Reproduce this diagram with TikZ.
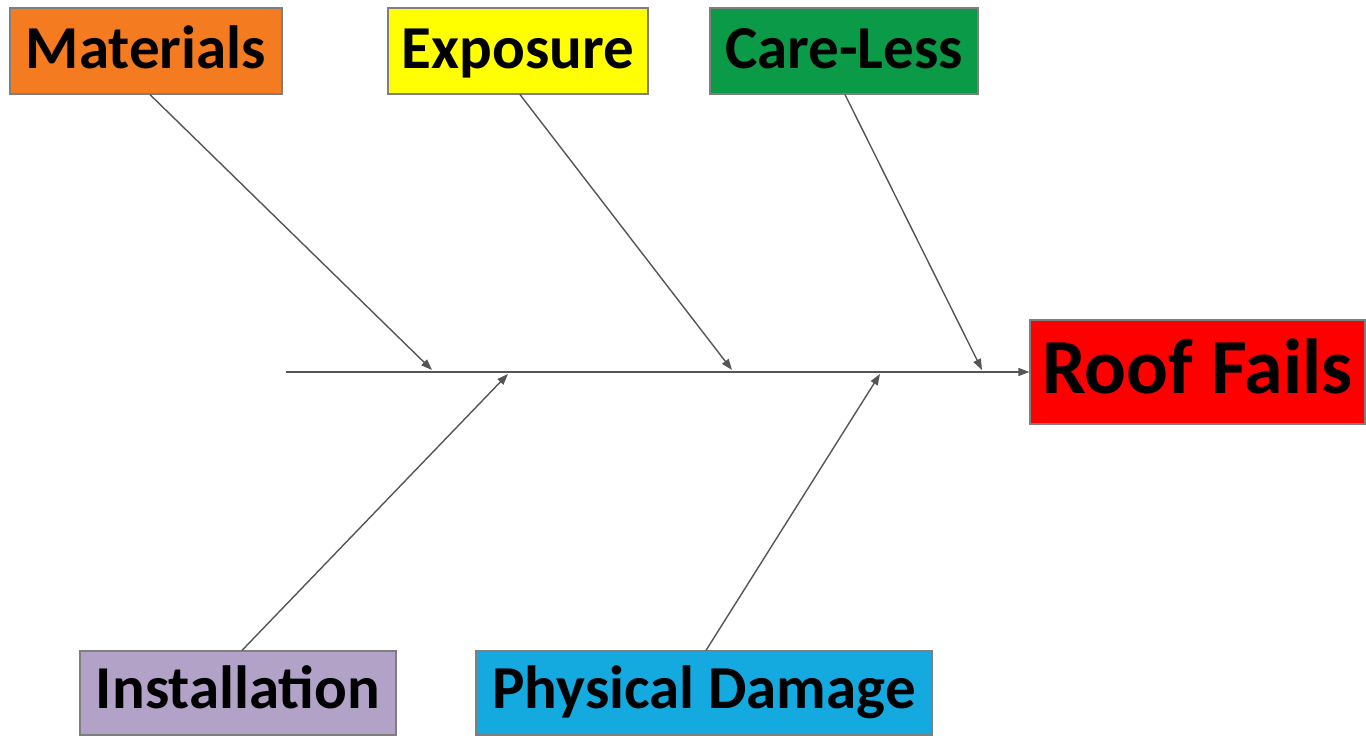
\documentclass[tikz,border=0pt]{standalone}
\usepackage{fontspec}
\setmainfont{Carlito}
\usetikzlibrary{arrows.meta}
\definecolor{cOrange}{HTML}{F47B20}
\definecolor{cYellow}{HTML}{FFFF00}
\definecolor{cGreen}{HTML}{0B9A48}
\definecolor{cRed}{HTML}{FF0000}
\definecolor{cLav}{HTML}{B3A2C7}
\definecolor{cBlue}{HTML}{14AAE0}
\definecolor{cLine}{HTML}{555555}
\definecolor{cBorder}{HTML}{7F7F7F}
\tikzset{
  cause/.style={draw=cBorder, line width=1.2pt, inner sep=0pt, font=\bfseries\fontsize{61}{63}\selectfont, text=black, text height=44pt, text depth=10pt},
  bone/.style={draw=cLine, line width=1.4pt, -{Triangle[length=11pt,width=8pt]}},
}
\begin{document}
\begin{tikzpicture}[x=1pt,y=-1pt]
\useasboundingbox (0,0) rectangle (1366,736);
\node[cause, fill=cOrange, minimum width=272pt, minimum height=86pt] (mat) at (146,51) {Materials};
\node[cause, fill=cYellow, minimum width=260pt, minimum height=86pt] (exp) at (518,51) {Exposure};
\node[cause, fill=cGreen, minimum width=268pt, minimum height=86pt] (care) at (844,51) {Care-Less};
\node[cause, fill=cRed, minimum width=335pt, minimum height=104pt, font=\bfseries\fontsize{78}{80}\selectfont, text height=56pt, text depth=14pt] (roof) at (1197.5,372) {Roof Fails};
\node[cause, fill=cLav, minimum width=316pt, minimum height=84pt, text height=42pt, text depth=12pt] (inst) at (238,693) {Installation};
\node[cause, fill=cBlue, minimum width=456pt, minimum height=84pt, text height=42pt, text depth=12pt] (phys) at (704,693) {Physical Damage};
\coordinate (tail) at (286,372);
\coordinate (pmat) at (432,370);
\coordinate (pexp) at (732,370);
\coordinate (pcare) at (982,370);
\coordinate (pinst) at (508,374);
\coordinate (pphys) at (880,374);
\draw[bone] (tail) -- (roof.west);
\draw[bone] (mat.south) ++(4,0) -- (pmat);
\draw[bone] (exp.south) ++(2,0) -- (pexp);
\draw[bone] (care.south) ++(1,0) -- (pcare);
\draw[bone] (inst.north) ++(4,0) -- (pinst);
\draw[bone] (phys.north) ++(2,0) -- (pphys);
\end{tikzpicture}
\end{document}
